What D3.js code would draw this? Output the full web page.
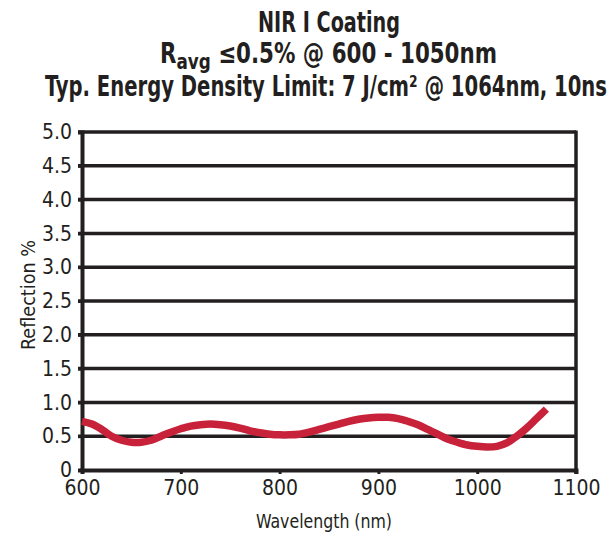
<!DOCTYPE html>
<html>
<head>
<meta charset="utf-8">
<script src="https://cdn.jsdelivr.net/npm/d3@7"></script>
<style>
  body { margin: 0; background: #fff; }
  text { font-family: "DejaVu Sans Condensed", "Liberation Sans Narrow", sans-serif; font-stretch: condensed; fill: #231f20; }
</style>
</head>
<body>
<script>
var wavelength = [600, 610, 620, 630, 640, 650, 660, 670, 680, 690, 700, 710, 720, 730, 740, 750, 760, 770, 780, 790,
  800, 810, 820, 830, 840, 850, 860, 870, 880, 890, 900, 910, 920, 930, 940, 950, 960, 970, 980, 990,
  1000, 1010, 1020, 1030, 1040, 1050, 1060, 1070];
var reflection = [0.72, 0.68, 0.60, 0.50, 0.44, 0.41, 0.41, 0.44, 0.50, 0.56, 0.61, 0.65, 0.67, 0.68, 0.67, 0.65, 0.62, 0.58, 0.55, 0.53,
  0.52, 0.52, 0.53, 0.56, 0.60, 0.64, 0.68, 0.72, 0.75, 0.77, 0.78, 0.78, 0.76, 0.72, 0.67, 0.60, 0.53, 0.46, 0.41, 0.37,
  0.35, 0.34, 0.35, 0.40, 0.50, 0.62, 0.76, 0.90];
var xTicks = [600, 700, 800, 900, 1000, 1100];
var yTicks = [0, 0.5, 1.0, 1.5, 2.0, 2.5, 3.0, 3.5, 4.0, 4.5, 5.0];

var width = 614, height = 540;
var svg = d3.select("body").append("svg").attr("width", width).attr("height", height);

var x = d3.scaleLinear().domain([600, 1100]).range([82, 576]);
var y = d3.scaleLinear().domain([0, 5]).range([470, 132]);

// title, squeezed to the widths of the reference
var title = svg.append("g").attr("font-weight", "bold");
title.append("text").attr("x", 258).attr("y", 32).attr("font-size", 28)
  .attr("textLength", 142).attr("lengthAdjust", "spacingAndGlyphs")
  .text("NIR I Coating");
var t2 = title.append("text").attr("x", 160).attr("y", 63).attr("font-size", 28)
  .attr("textLength", 337).attr("lengthAdjust", "spacingAndGlyphs");
t2.append("tspan").text("R");
t2.append("tspan").attr("font-size", 22).attr("dy", 6).text("avg");
t2.append("tspan").attr("dy", -6).text(" \u22640.5% @ 600 - 1050nm");
title.append("text").attr("x", 45).attr("y", 96).attr("font-size", 28)
  .attr("textLength", 562).attr("lengthAdjust", "spacingAndGlyphs")
  .text("Typ. Energy Density Limit: 7 J/cm\u00B2 @ 1064nm, 10ns");

// grid lines
svg.append("g").selectAll("line").data(yTicks.filter(function(d) { return d > 0; }))
  .enter().append("line")
  .attr("x1", x(600) - 4).attr("x2", x(1100))
  .attr("y1", function(d) { return y(d); }).attr("y2", function(d) { return y(d); })
  .attr("stroke", "#231f20").attr("stroke-width", 3.5);

// right border
svg.append("line").attr("x1", x(1100)).attr("x2", x(1100)).attr("y1", y(5) - 1.5).attr("y2", y(0) + 4)
  .attr("stroke", "#231f20").attr("stroke-width", 3.5);

// y axis
var yAxis = svg.append("g").attr("transform", "translate(" + x(600) + ",0)")
  .call(d3.axisLeft(y).tickValues(yTicks).tickSize(4).tickPadding(6)
    .tickFormat(function(d) { return d === 0 ? "0" : d3.format(".1f")(d); }));
yAxis.select(".domain").attr("stroke", "#231f20").attr("stroke-width", 4);
yAxis.selectAll(".tick line").attr("stroke", "#231f20").attr("stroke-width", 3);
yAxis.selectAll("text").attr("font-size", 21).attr("fill", "#231f20");

// x axis
var xAxis = svg.append("g").attr("transform", "translate(0," + y(0) + ")")
  .call(d3.axisBottom(x).tickValues(xTicks).tickSize(4).tickPadding(6).tickFormat(d3.format("d")));
xAxis.select(".domain").attr("stroke", "#231f20").attr("stroke-width", 4);
xAxis.selectAll(".tick line").attr("stroke", "#231f20").attr("stroke-width", 3);
xAxis.selectAll("text").attr("font-size", 21).attr("fill", "#231f20");

// axis titles
svg.append("text").attr("x", 324).attr("y", 528).attr("text-anchor", "middle")
  .attr("font-size", 20).attr("textLength", 136).attr("lengthAdjust", "spacingAndGlyphs")
  .text("Wavelength (nm)");
svg.append("text").attr("transform", "translate(35,295) rotate(-90)").attr("text-anchor", "middle")
  .attr("font-size", 20).attr("textLength", 110).attr("lengthAdjust", "spacingAndGlyphs")
  .text("Reflection %");

// curve
var line = d3.line()
  .x(function(d, i) { return x(wavelength[i]); })
  .y(function(d) { return y(d); })
  .curve(d3.curveCatmullRom);
svg.append("path").datum(reflection)
  .attr("d", line)
  .attr("fill", "none")
  .attr("stroke", "#c8213a")
  .attr("stroke-width", 7.5);
</script>
</body>
</html>
